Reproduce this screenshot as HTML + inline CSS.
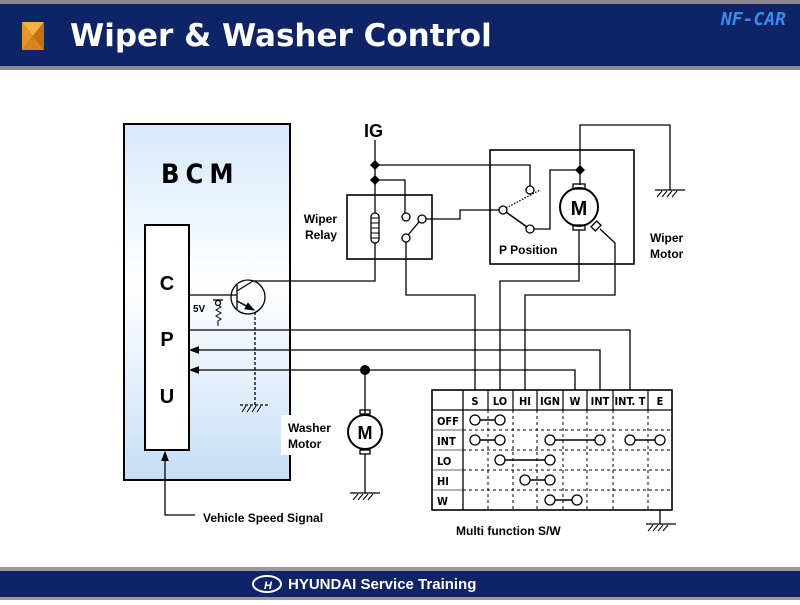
<!DOCTYPE html>
<html><head><meta charset="utf-8"><style>
body{margin:0;width:800px;height:600px;overflow:hidden;background:#fff;font-family:"Liberation Sans",sans-serif}
</style></head><body>
<svg width="800" height="600" viewBox="0 0 800 600" xmlns="http://www.w3.org/2000/svg" font-family="Liberation Sans, sans-serif">
<defs>
<linearGradient id="g" x1="0" y1="0" x2="0" y2="1">
<stop offset="0" stop-color="#d6e8fa"/><stop offset="0.45" stop-color="#ffffff"/><stop offset="1" stop-color="#c6def6"/>
</linearGradient>
<marker id="ar" markerWidth="8" markerHeight="8" refX="7" refY="4" orient="auto"><path d="M0,1 L8,4 L0,7z" fill="#000"/></marker>
</defs>
<rect x="0" y="0" width="800" height="4" fill="#8a8a8a"/>
<rect x="0" y="4" width="800" height="62" fill="#0f2466"/>
<rect x="0" y="66" width="800" height="4" fill="#8a8a8a"/>
<polygon points="22,22 44,22 33,36" fill="#f5b048"/>
<polygon points="22,22 33,36 22,50" fill="#e8962c"/>
<polygon points="44,22 44,50 33,36" fill="#c87010"/>
<polygon points="22,50 44,50 33,36" fill="#d88420"/>
<text x="70" y="46" font-size="31" font-weight="bold" fill="#fff" font-family="DejaVu Sans, sans-serif">Wiper &amp; Washer Control</text>
<text x="786" y="25" font-size="18" font-weight="bold" font-style="italic" fill="#3a8cf0" text-anchor="end" font-family="DejaVu Sans Mono, monospace">NF-CAR</text>
<rect x="0" y="567" width="800" height="4" fill="#9a9a9a"/>
<rect x="0" y="571" width="800" height="26" fill="#0f2466"/>
<rect x="0" y="597" width="800" height="3" fill="#9a9a9a"/>
<ellipse cx="267" cy="584" rx="14" ry="8" fill="none" stroke="#fff" stroke-width="2"/>
<text x="268" y="589" font-size="11" font-weight="bold" font-style="italic" fill="#fff" text-anchor="middle">H</text>
<text x="288" y="589" font-size="15" font-weight="bold" fill="#fff">HYUNDAI Service Training</text>

<g stroke="#000" stroke-width="1.3" fill="none">
<rect x="124" y="124" width="166" height="356" fill="url(#g)" stroke-width="2"/>
<rect x="145" y="225" width="44" height="225" fill="#fff" stroke-width="2"/>
<rect x="281" y="415" width="58" height="40" fill="#fff" stroke="none"/>
<circle cx="248" cy="297" r="17"/>
<line x1="237" y1="285" x2="237" y2="309"/>
<line x1="189" y1="295" x2="237" y2="295"/>
<line x1="237" y1="291" x2="253" y2="281"/>
<line x1="237" y1="301" x2="254" y2="310" marker-end="url(#ar)"/>
<polyline points="253,281 375,281 375,243"/>
<line x1="255" y1="312" x2="255" y2="405" stroke-dasharray="3,2"/>
<line x1="240" y1="405" x2="270" y2="405" stroke-dasharray="3,2"/>
<path d="M242,412 l4,-6 M247,412 l4,-6 M252,412 l4,-6 M257,412 l4,-6" stroke-width="1"/>
<circle cx="218" cy="303" r="2.5"/>
<line x1="213" y1="300" x2="223" y2="300"/>
<path d="M218,305 l3,2 l-5,3 l5,3 l-5,3 l5,3 l-3,2 v5" stroke-width="1"/>
<polyline points="189,330 630,330 630,390"/>
<polyline points="600,390 600,350 190,350" marker-end="url(#ar)"/>
<polyline points="575,390 575,370 190,370" marker-end="url(#ar)"/>
<line x1="365" y1="370" x2="365" y2="414"/>
<circle cx="365" cy="432" r="17" stroke-width="2"/>
<rect x="360" y="410" width="10" height="4"/>
<rect x="360" y="450" width="10" height="4"/>
<line x1="365" y1="454" x2="365" y2="493"/>
<line x1="350" y1="493" x2="380" y2="493"/>
<path d="M353,500 l5,-6 M358,500 l5,-6 M363,500 l5,-6 M368,500 l5,-6" stroke-width="1"/>
<polyline points="195,515 165,515 165,452" marker-end="url(#ar)"/>
<line x1="375" y1="140" x2="375" y2="213"/>
<polyline points="375,165 530,165 530,186"/>
<polyline points="375,180 405,180 405,213"/>
<rect x="347" y="195" width="85" height="64" stroke-width="1.6"/>
<rect x="371" y="213" width="8" height="30" rx="4"/>
<path d="M371,218 h8 M371,223 h8 M371,228 h8 M371,233 h8 M371,238 h8" stroke-width="1"/>
<circle cx="406" cy="217" r="4"/>
<circle cx="406" cy="238" r="4"/>
<circle cx="422" cy="219" r="4"/>
<line x1="408" y1="235" x2="419" y2="222"/>
<polyline points="406,242 406,295 475,295 475,390"/>
<polyline points="426,219 460,219 460,210 499,210"/>
<rect x="490" y="150" width="144" height="114" stroke-width="1.6"/>
<circle cx="503" cy="210" r="4"/>
<circle cx="530" cy="190" r="4"/>
<circle cx="530" cy="229" r="4"/>
<line x1="506" y1="212" x2="527" y2="227" stroke-width="1.6"/>
<line x1="506" y1="208" x2="540" y2="190" stroke-dasharray="1.5,1.5"/>
<polyline points="534,229 550,229 550,170 580,170"/>
<polyline points="580,185 580,125 670,125 670,190"/>
<line x1="655" y1="190" x2="685" y2="190"/>
<path d="M657,197 l5,-6 M662,197 l5,-6 M667,197 l5,-6 M672,197 l5,-6" stroke-width="1"/>
<circle cx="579" cy="207" r="19" stroke-width="2"/>
<rect x="573" y="184" width="12" height="5"/>
<rect x="573" y="225" width="12" height="5"/>
<rect x="593" y="222" width="6" height="8" transform="rotate(45 596 226)"/>
<polyline points="579,230 579,281 500,281 500,390"/>
<polyline points="600,229 615,243 615,295 525,295 525,390"/>
<rect x="432" y="390" width="240" height="120" stroke-width="1.6"/>
<line x1="432" y1="410" x2="672" y2="410"/>
<line x1="463" y1="390" x2="463" y2="510"/>
<g stroke-width="1.2">
<line x1="488" y1="390" x2="488" y2="410"/><line x1="513" y1="390" x2="513" y2="410"/>
<line x1="537" y1="390" x2="537" y2="410"/><line x1="563" y1="390" x2="563" y2="410"/>
<line x1="587" y1="390" x2="587" y2="410"/><line x1="613" y1="390" x2="613" y2="410"/>
<line x1="648" y1="390" x2="648" y2="410"/>
</g>
<g stroke-dasharray="3,3" stroke-width="1">
<line x1="488" y1="410" x2="488" y2="510"/><line x1="513" y1="410" x2="513" y2="510"/>
<line x1="537" y1="410" x2="537" y2="510"/><line x1="563" y1="410" x2="563" y2="510"/>
<line x1="587" y1="410" x2="587" y2="510"/><line x1="613" y1="410" x2="613" y2="510"/>
<line x1="648" y1="410" x2="648" y2="510"/>
<line x1="463" y1="430" x2="672" y2="430"/><line x1="463" y1="450" x2="672" y2="450"/>
<line x1="463" y1="470" x2="672" y2="470"/><line x1="463" y1="490" x2="672" y2="490"/>
</g>
<g stroke="#333" stroke-width="0.8">
<line x1="432" y1="430" x2="463" y2="430"/><line x1="432" y1="450" x2="463" y2="450"/>
<line x1="432" y1="470" x2="463" y2="470"/><line x1="432" y1="490" x2="463" y2="490"/>
</g>
<g stroke-width="1.6">
<line x1="475" y1="420" x2="500" y2="420"/>
<line x1="475" y1="440" x2="500" y2="440"/>
<line x1="550" y1="440" x2="600" y2="440"/>
<line x1="630" y1="440" x2="660" y2="440"/>
<line x1="500" y1="460" x2="550" y2="460"/>
<line x1="525" y1="480" x2="550" y2="480"/>
<line x1="550" y1="500" x2="577" y2="500"/>
</g>
<g fill="#fff">
<circle cx="475" cy="420" r="5"/><circle cx="500" cy="420" r="5"/>
<circle cx="475" cy="440" r="5"/><circle cx="500" cy="440" r="5"/>
<circle cx="550" cy="440" r="5"/><circle cx="600" cy="440" r="5"/>
<circle cx="630" cy="440" r="5"/><circle cx="660" cy="440" r="5"/>
<circle cx="500" cy="460" r="5"/><circle cx="550" cy="460" r="5"/>
<circle cx="525" cy="480" r="5"/><circle cx="550" cy="480" r="5"/>
<circle cx="550" cy="500" r="5"/><circle cx="577" cy="500" r="5"/>
</g>
<line x1="660" y1="510" x2="660" y2="524"/>
<line x1="646" y1="524" x2="676" y2="524"/>
<path d="M648,531 l5,-6 M653,531 l5,-6 M658,531 l5,-6 M663,531 l5,-6" stroke-width="1"/>
</g>
<g fill="#000">
<path d="M375,160 l5,5 l-5,5 l-5,-5z"/>
<path d="M375,175 l5,5 l-5,5 l-5,-5z"/>
<path d="M580,165 l5,5 l-5,5 l-5,-5z"/>
<circle cx="365" cy="370" r="5"/>
</g>
<g font-family="Liberation Sans, sans-serif" font-weight="bold" fill="#000">
<text x="161" y="183" font-size="27" letter-spacing="6" font-family="DejaVu Sans Condensed, DejaVu Sans, sans-serif">BCM</text>
<text x="167" y="290" font-size="20" text-anchor="middle">C</text>
<text x="167" y="346" font-size="20" text-anchor="middle">P</text>
<text x="167" y="403" font-size="20" text-anchor="middle">U</text>
<text x="193" y="312" font-size="10">5V</text>
<text x="364" y="137" font-size="18">IG</text>
<text x="337" y="223" font-size="12" text-anchor="end">Wiper</text>
<text x="337" y="239" font-size="12" text-anchor="end">Relay</text>
<text x="499" y="254" font-size="12">P Position</text>
<text x="650" y="242" font-size="12">Wiper</text>
<text x="650" y="258" font-size="12">Motor</text>
<text x="288" y="432" font-size="12">Washer</text>
<text x="288" y="448" font-size="12">Motor</text>
<text x="365" y="439" font-size="18" text-anchor="middle">M</text>
<text x="579" y="215" font-size="20" text-anchor="middle">M</text>
<text x="203" y="522" font-size="12">Vehicle Speed Signal</text>
<text x="456" y="535" font-size="12">Multi function S/W</text>
<g font-size="11" font-family="DejaVu Sans Condensed, sans-serif">
<text x="475" y="405" text-anchor="middle">S</text>
<text x="500" y="405" text-anchor="middle">LO</text>
<text x="525" y="405" text-anchor="middle">HI</text>
<text x="550" y="405" text-anchor="middle">IGN</text>
<text x="575" y="405" text-anchor="middle">W</text>
<text x="600" y="405" text-anchor="middle">INT</text>
<text x="630" y="405" text-anchor="middle">INT. T</text>
<text x="660" y="405" text-anchor="middle">E</text>
<text x="437" y="425">OFF</text>
<text x="437" y="445">INT</text>
<text x="437" y="465">LO</text>
<text x="437" y="485">HI</text>
<text x="437" y="505">W</text>
</g>
</g>
</svg>
</body></html>
